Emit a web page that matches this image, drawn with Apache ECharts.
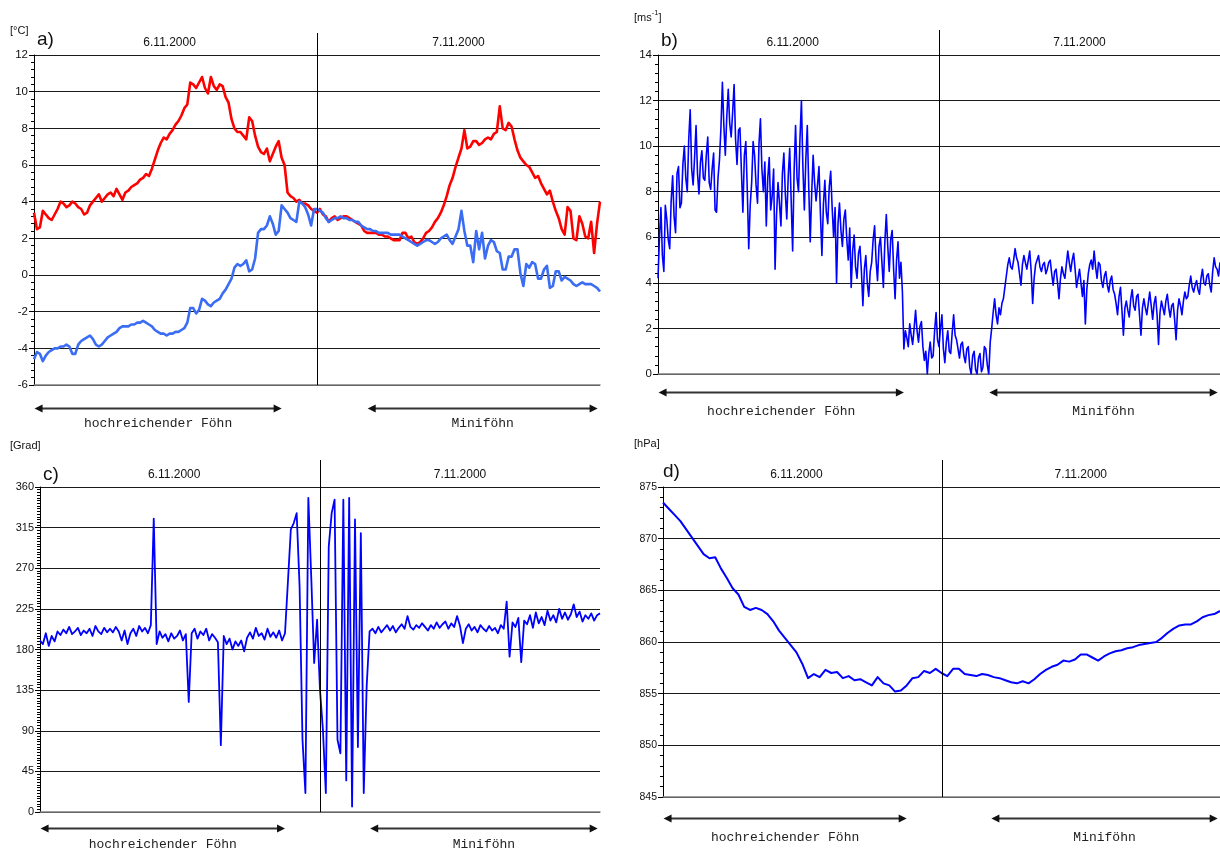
<!DOCTYPE html>
<html><head><meta charset="utf-8">
<script src="https://cdn.jsdelivr.net/npm/echarts@6/dist/echarts.min.js"></script>
<style>html,body{margin:0;padding:0;background:#fff}#c{width:1220px;height:855px}</style>
</head><body><div id="c"></div>
<script>
// ---------------- DATA (hours since 6.11.2000 00:00) ----------------
const stepTemp = 0.25;     // hours between samples, panel a
const stepWind = 0.125;    // hours between samples, panel b
const stepDir = 0.25;      // hours between samples, panel c
const stepPres = 0.5;      // hours between samples, panel d

// a) red temperature [°C], 4 samples per hour
const tempRed = [
 3.4,2.5,2.6,3.5, 3.3,3.1,3.0,3.3, 3.6,4.0,3.9,3.7, 3.8,4.0,3.9,3.7,
 3.6,3.3,3.4,3.8, 4.0,4.2,4.4,4.0, 4.2,4.4,4.5,4.3, 4.7,4.4,4.1,4.5,
 4.6,4.8,4.9,5.0, 5.2,5.3,5.5,5.4, 5.8,6.3,6.8,7.2, 7.5,7.4,7.7,7.9,
 8.2,8.4,8.7,9.1, 9.3,10.5,10.4,10.2, 10.5,10.8,10.2,9.9, 10.8,10.3,10.1,10.4,
 10.3,9.7,9.4,8.5, 8.0,7.8,7.8,7.6, 7.4,8.6,8.4,7.6, 7.0,6.7,6.6,6.9,
 6.2,6.6,7.0,7.3, 6.4,6.0,4.5,4.3, 4.2,4.0,4.1,3.9, 3.9,3.8,3.6,3.5,
 3.4,3.6,3.3,3.2, 2.9,3.1,3.2,3.0, 3.1,3.2,3.2,3.1, 3.0,2.9,2.8,2.7,
 2.4,2.3,2.3,2.3, 2.3,2.2,2.2,2.1, 2.1,2.0,1.9,1.9, 1.9,2.3,2.3,2.0,
 2.1,1.8,1.7,1.8, 2.0,2.3,2.4,2.6, 2.9,3.1,3.4,3.8, 4.3,4.9,5.3,5.9,
 6.4,6.9,7.9,6.9, 7.0,7.3,7.3,7.1, 7.2,7.4,7.5,7.4, 7.7,7.8,9.2,8.0,
 7.9,8.3,8.1,7.4, 6.8,6.4,6.2,6.0, 5.9,5.6,5.3,5.4, 5.0,4.7,4.4,4.6,
 4.0,3.5,3.1,2.5, 2.2,3.7,3.5,2.0, 1.9,3.2,2.8,2.1, 2.0,2.9,1.2,2.8,
 4.0];
// a) blue temperature [°C], 4 samples per hour
const tempBlue = [
 -4.6,-4.2,-4.3,-4.7, -4.4,-4.2,-4.1,-4.0, -4.0,-3.9,-3.9,-3.8, -3.9,-4.3,-4.3,-3.8,
 -3.6,-3.5,-3.4,-3.3, -3.5,-3.8,-3.9,-3.8, -3.6,-3.4,-3.3,-3.2, -3.1,-2.9,-2.8,-2.8,
 -2.8,-2.7,-2.7,-2.6, -2.6,-2.5,-2.6,-2.7, -2.8,-3.0,-3.1,-3.2, -3.2,-3.3,-3.2,-3.2,
 -3.1,-3.1,-3.0,-2.9, -2.6,-1.8,-1.8,-2.1, -1.9,-1.3,-1.4,-1.6, -1.7,-1.5,-1.4,-1.3,
 -1.0,-0.8,-0.5,-0.2, 0.4,0.6,0.5,0.6, 0.8,0.2,0.3,0.9, 2.3,2.5,2.5,2.7,
 3.2,2.8,2.2,2.4, 3.8,3.6,3.4,3.1, 3.0,2.9,4.0,3.9, 3.7,3.3,2.7,3.6,
 3.6,3.5,3.4,3.1, 2.9,3.0,3.1,3.1, 3.2,3.1,3.1,3.0, 3.0,2.9,2.9,2.7,
 2.6,2.5,2.5,2.4, 2.4,2.3,2.3,2.3, 2.3,2.2,2.2,2.2, 2.2,2.1,2.0,1.9,
 1.8,1.7,1.6,1.7, 1.8,1.9,1.9,1.8, 1.7,1.8,2.0,2.1, 2.2,1.9,1.7,2.1,
 2.5,3.5,2.4,1.6, 1.6,0.7,2.4,1.4, 2.3,0.9,1.6,1.9, 1.8,1.3,1.2,0.3,
 0.3,1.0,1.0,1.4, 1.4,0.1,-0.6,0.6, 0.4,0.7,0.6,-0.2, -0.2,0.3,0.5,-0.7,
 -0.6,0.2,0.2,-0.3, -0.1,-0.2,-0.3,-0.5, -0.6,-0.5,-0.4,-0.5, -0.5,-0.5,-0.6,-0.7,
 -0.9];
// b) wind speed [m/s], 8 samples per hour
const windSpeed = [
 4.2,6.0,7.3,5.2,4.5,7.4,6.8,5.9,  5.5,7.6,8.7,6.9,6.2,8.8,9.1,7.3,
 7.5,9.2,10.0,8.6,8.0,10.3,11.6,9.0,  8.3,9.5,10.9,8.8,7.9,9.3,9.8,8.6,
 8.5,9.6,10.4,8.4,8.1,9.0,9.7,7.2,  7.1,8.6,9.4,10.8,12.8,10.9,9.6,11.3,
 12.5,11.0,10.4,11.5,12.7,10.3,9.2,10.7,  10.8,8.9,7.1,9.6,10.2,8.1,5.5,7.4,
 8.4,10.2,9.6,8.3,7.5,10.1,11.2,9.0,  8.0,9.3,6.5,8.6,9.5,7.2,7.8,9.0,
 4.6,7.0,8.4,7.5,6.5,8.8,9.7,7.9,  6.8,8.7,9.9,7.6,5.4,8.9,10.9,8.6,
 8.0,10.3,12.0,9.1,7.2,9.4,10.9,8.2,  5.8,7.9,9.6,8.4,7.6,8.3,9.1,7.0,
 5.2,7.4,8.5,7.1,6.6,8.2,8.9,7.3,  6.0,7.3,4.0,6.6,7.5,6.3,5.6,6.8,
 7.2,5.9,5.0,6.4,3.8,5.4,6.1,4.7,  4.2,5.3,5.6,4.5,3.0,4.6,5.2,4.0,
 3.4,4.5,4.9,5.9,6.5,5.0,4.1,5.6,  6.0,4.9,3.8,5.8,7.0,5.6,4.5,5.9,
 6.3,4.6,3.3,5.0,5.8,4.2,4.9,3.6,  1.1,1.9,1.6,1.2,2.2,1.7,1.3,2.0,
 2.8,1.9,1.4,2.1,2.3,1.2,0.6,1.0,  0.0,0.9,1.4,0.7,0.8,1.9,2.7,1.5,
 1.2,2.0,2.6,1.1,0.5,1.4,1.9,1.0,  0.9,1.8,2.6,1.7,1.5,1.1,0.7,1.3,
 1.4,0.8,0.5,1.1,1.2,0.3,0.0,0.8,  1.0,0.2,0.0,0.7,0.9,0.1,0.3,1.2,
 1.1,0.4,0.0,1.4,2.0,2.7,3.3,2.6,  2.2,2.9,2.6,3.1,3.3,3.8,4.3,4.8,
 5.1,4.7,4.6,5.0,5.5,5.1,4.9,4.4,  3.9,4.8,5.2,4.9,4.6,5.0,5.4,4.5,
 3.1,4.2,4.8,5.0,5.2,4.7,4.5,4.8,  4.9,4.4,4.6,4.9,5.0,4.4,3.9,4.5,
 4.6,4.0,3.3,4.2,4.7,4.4,4.2,4.8,  5.4,4.9,4.5,5.0,5.3,4.6,3.8,4.2,
 4.6,4.0,3.4,4.1,2.2,3.7,4.4,4.8,  5.0,4.6,5.4,4.7,4.2,4.9,4.8,4.1,
 3.8,4.3,4.5,3.9,3.6,4.1,4.3,3.7,  3.5,3.1,2.6,3.4,3.8,2.8,1.7,2.9,
 3.2,2.8,2.5,3.3,3.7,3.0,2.8,3.4,  3.5,2.6,1.7,2.9,3.3,2.9,2.6,3.1,
 3.6,3.0,2.4,3.1,3.4,2.6,1.3,2.7,  3.2,2.9,2.6,3.2,3.5,2.9,2.5,3.0,
 3.1,2.4,1.5,2.8,3.3,3.0,2.6,3.2,  3.6,3.3,3.4,3.9,4.3,3.8,3.6,3.9,
 4.1,3.7,3.5,4.2,4.6,4.0,3.9,4.3,  4.4,3.9,3.6,4.5,5.1,4.7,4.6,4.3,
 4.9];
// c) wind direction [Grad], 4 samples per hour
const windDir = [
 190,186,198,184, 195,189,200,196, 202,198,205,197, 200,204,196,201,
 198,203,195,206, 200,197,204,199, 203,199,205,200, 190,201,186,198,
 203,195,206,200, 204,198,207,325, 186,200,193,197, 189,198,192,195,
 201,190,197,122, 198,203,192,200, 196,203,190,197, 193,188,74,195,
 186,192,180,189, 184,190,178,193, 199,192,204,195, 198,191,203,194,
 199,193,201,190, 198,255,313,320, 331,250,80,21, 348,260,165,213,
 135,91,21,294, 331,346,80,65, 346,35,348,6, 324,72,309,21,
 139,200,203,198, 205,199,203,207, 201,206,199,204, 208,203,217,205,
 202,207,204,209, 205,201,207,203, 210,204,208,211, 203,209,205,217,
 206,187,203,208, 201,205,199,207, 203,200,206,201, 204,198,207,203,
 233,172,210,205, 215,166,212,208, 218,204,221,209, 216,207,223,212,
 218,210,225,214, 221,213,219,230, 216,222,211,218, 214,220,212,218,
 220];
// d) pressure [hPa], 2 samples per hour
const pressure = [873.5,872.9,872.3,871.7,870.9,870.1,869.3,868.5,868.1,868.2,
 867.1,866.2,865.2,864.6,863.4,863.1,863.3,863.1,862.7,862.0,
 861.1,860.4,859.7,859.0,857.9,856.5,856.9,856.6,857.3,857.0,
 857.1,856.5,856.7,856.3,856.4,856.1,855.8,856.6,856.0,855.8,
 855.2,855.3,855.8,856.5,856.6,857.2,857.0,857.4,857.0,856.7,
 857.4,857.4,856.9,856.8,856.7,856.9,856.8,856.6,856.5,856.3,
 856.1,856.0,856.2,856.0,856.4,856.9,857.3,857.6,857.8,858.2,
 858.1,858.3,858.8,858.8,858.5,858.2,858.6,858.9,859.1,859.2,
 859.4,859.5,859.7,859.8,859.9,860.0,860.4,860.9,861.3,861.6,
 861.7,861.7,862.0,862.4,862.6,862.7,863.0];

const dayLabels = ['6.11.2000', '7.11.2000'];
const dayLabelHours = [11.5, 36];
const midnightHour = 24;
const phases = [
  {name: 'hochreichender Föhn', from: 0.05, to: 21.0},
  {name: 'Miniföhn', from: 28.3, to: 47.8}
];
const panelLetters = ['a)', 'b)', 'c)', 'd)'];
const unitLabels = ['[°C]', '{a|[ms}{s|-1}{a|]}', '[Grad]', '[hPa]'];
const yMins = [-6, 0, 0, 845];
const yMaxs = [12, 14, 360, 875];
const yIntervals = [2, 2, 45, 5];
const yMinorSplits = [5, 5, 15, 5];

// ---------------- LAYOUT ----------------
const layout = [
  {left:34, top:55, width:566, height:330, font:11.5, letter:[37,40], unit:[10,31], arrowDy:23, textDy:39, rise:22},
  {left:658, top:55, width:562, height:319, font:11.5, letter:[661,41], unit:[634,16], arrowDy:18, textDy:38, rise:25},
  {left:40, top:487, width:560, height:325, font:11, letter:[43,475], unit:[10,446], arrowDy:16, textDy:33, rise:27},
  {left:663, top:487, width:557, height:310, font:10.5, letter:[663,472], unit:[634,444], arrowDy:21, textDy:41, rise:27}
];
const SANS = '"Liberation Sans", Arial, sans-serif';
const MONO = '"Liberation Mono", "Courier New", monospace';

function toPairs(values, step) { return values.map((v, i) => [i * step, v]); }

const grids = layout.map(L => ({left:L.left, top:L.top, width:L.width, height:L.height, containLabel:false, outerBoundsMode:'none'}));
const xAxes = layout.map((L, i) => ({
  type:'value', gridIndex:i, min:0, max:48,
  axisLine:{show:true, onZero:false, lineStyle:{color:'#808080', width:1.5}},
  axisTick:{show:false}, axisLabel:{show:false}, splitLine:{show:false}
}));
const yAxes = layout.map((L, i) => ({
  type:'value', gridIndex:i, min:yMins[i], max:yMaxs[i], interval:yIntervals[i],
  axisLine:{show:true, lineStyle:{color:'#000', width:1}},
  axisTick:{show:true, length:5, lineStyle:{color:'#000', width:1}},
  minorTick:{show:true, splitNumber:yMinorSplits[i], length:3, lineStyle:{color:'#000', width:1}},
  splitLine:{show:true, lineStyle:{color:'#1a1a1a', width:1}},
  axisLabel:{fontSize:L.font, color:'#111', margin:6, fontFamily:SANS}
}));

function lineSeries(idx, values, step, color, width) {
  return {type:'line', xAxisIndex:idx, yAxisIndex:idx, data:toPairs(values, step),
    showSymbol:false, symbol:'none', sampling:null, silent:true, animation:false,
    lineStyle:{color:color, width:width, join:'round'}, itemStyle:{color:color}};
}

const chart = echarts.init(document.getElementById('c'), null, {renderer:'canvas'});
chart.setOption({
  animation:false,
  backgroundColor:'#ffffff',
  grid:grids, xAxis:xAxes, yAxis:yAxes,
  series:[
    lineSeries(0, tempRed, stepTemp, '#ff0000', 2.6),
    lineSeries(0, tempBlue, stepTemp, '#3a6cf4', 2.6),
    lineSeries(1, windSpeed, stepWind, '#0000ff', 1.6),
    lineSeries(2, windDir, stepDir, '#0000ff', 1.8),
    lineSeries(3, pressure, stepPres, '#0000ff', 2.0)
  ]
});

function txt(text, x, y, font, align, extra) {
  return {type:'text', silent:true, z:120, style:Object.assign({
    text:text, x:x, y:y, font:font, fill:'#111',
    align:align, verticalAlign:'middle', textAlign:align, textVerticalAlign:'middle'
  }, extra || {})};
}

const gfx = [];
layout.forEach((L, i) => {
  const px = (x, y) => chart.convertToPixel({gridIndex:i}, [x, y]);
  const [xm, yTop] = px(midnightHour, yMaxs[i]);
  const yBot = px(midnightHour, yMins[i])[1];
  const xs = Math.round(xm) + 0.5;
  gfx.push({type:'line', silent:true, z:110, shape:{x1:xs, y1:yTop - L.rise, x2:xs, y2:yBot}, style:{stroke:'#000', lineWidth:1}});
  dayLabels.forEach((t, k) => {
    gfx.push(txt(t, px(dayLabelHours[k], yMaxs[i])[0], yTop - 12, '12px ' + SANS, 'center'));
  });
  gfx.push(txt(panelLetters[i], L.letter[0], L.letter[1], '19px ' + SANS, 'left'));
  if (i === 1) {
    gfx.push({type:'text', silent:true, z:120, style:{text:unitLabels[i], x:L.unit[0], y:L.unit[1], fill:'#111',
      align:'left', verticalAlign:'middle', textAlign:'left', textVerticalAlign:'middle',
      rich:{a:{fontSize:11, fontFamily:SANS, lineHeight:14, verticalAlign:'bottom', fill:'#111'},
            s:{fontSize:7.5, fontFamily:SANS, lineHeight:14, verticalAlign:'top', fill:'#111'}}}});
  } else {
    gfx.push(txt(unitLabels[i], L.unit[0], L.unit[1], '11px ' + SANS, 'left'));
  }
  const ya = Math.round(yBot + L.arrowDy) + 0.5;
  phases.forEach(p => {
    const x1 = px(p.from, yMins[i])[0];
    const x2 = Math.min(px(p.to, yMins[i])[0], 1219);
    gfx.push({type:'line', silent:true, z:110, shape:{x1:x1 + 4, y1:ya, x2:x2 - 4, y2:ya}, style:{stroke:'#333', lineWidth:2}});
    gfx.push({type:'polygon', silent:true, z:111, shape:{points:[[x1, ya], [x1 + 8, ya - 4], [x1 + 8, ya + 4]]}, style:{fill:'#111'}});
    gfx.push({type:'polygon', silent:true, z:111, shape:{points:[[x2, ya], [x2 - 8, ya - 4], [x2 - 8, ya + 4]]}, style:{fill:'#111'}});
    gfx.push(txt(p.name, (x1 + x2) / 2, yBot + L.textDy, '13px ' + MONO, 'center', {fill:'#222'}));
  });
});
chart.setOption({graphic:{elements:gfx}});
</script>
</body></html>
